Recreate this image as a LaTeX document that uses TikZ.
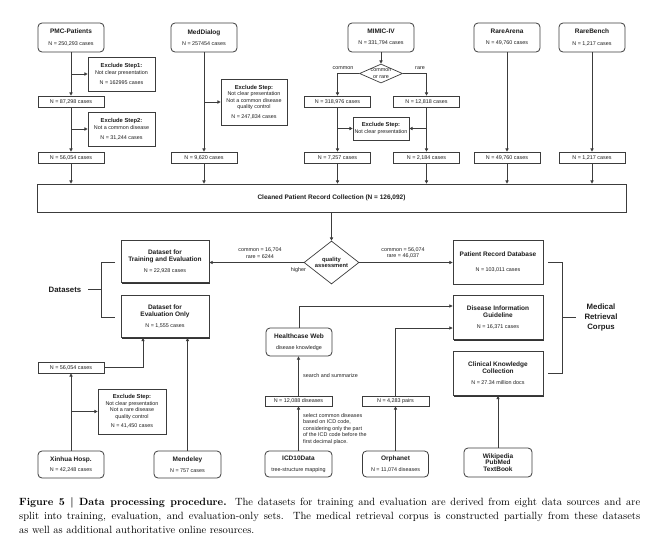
\documentclass[tikz,border=0pt]{standalone}
\usepackage{fontspec}
\setsansfont{Liberation Sans}
\usetikzlibrary{shapes.geometric,arrows.meta,shadows,calc}
\definecolor{lc}{HTML}{3C3C3C}
\definecolor{tc}{HTML}{1E1E1E}
\newcommand\fsm{\sffamily\fontsize{5.4}{6.6}\selectfont}
\newcommand\fti{\sffamily\bfseries\fontsize{6.5}{8}\selectfont}
\newcommand\fex{\sffamily\bfseries\fontsize{5.8}{6.6}\selectfont}
\newcommand\fbr{\sffamily\bfseries\fontsize{7.8}{10}\selectfont}
\newcommand\ttl[1]{{\fti #1}}
\newcommand\ext[1]{{\fex #1}}
\begin{document}
\begin{tikzpicture}[x=1pt,y=-1pt,
  src/.style={draw=lc, line width=0.8pt, rounded corners=4pt, fill=white, minimum width=66pt, minimum height=29pt, inner sep=0pt, align=center, font=\fsm, text=tc},
  cnt/.style={draw=lc, line width=0.7pt, fill=white, minimum width=66pt, minimum height=11pt, inner sep=0pt, font=\fsm, text=tc},
  exc/.style={draw=lc, line width=0.7pt, fill=white, inner sep=0pt, align=center, font=\fsm, text=tc},
  big/.style={draw=lc, line width=0.9pt, fill=white, minimum width=88pt, minimum height=42pt, inner sep=0pt, align=center, font=\fsm, text=tc, drop shadow={shadow xshift=1.4pt, shadow yshift=-1.4pt, fill=black!80, opacity=1}},
  dia/.style={diamond, draw=lc, line width=0.7pt, fill=white, inner sep=0pt},
  lab/.style={font=\fsm, text=tc, inner sep=0pt, align=center},
  ln/.style={draw=lc, line width=0.7pt},
  arr/.style={ln, -{Triangle[length=3.2pt, width=3.2pt]}}]
\useasboundingbox (0,0) rectangle (654,549);
\fill[white] (0,0) rectangle (654,549);

% sources
\node[src] (pmc) at (71,37.5) {\ttl{PMC-Patients}\\[4.5pt]N = 250,293 cases};
\node[src] (med) at (204,37.5) {\ttl{MedDialog}\\[4.5pt]N = 257454 cases};
\node[src] (mim) at (381,37.5) {\ttl{MIMIC-IV}\\[4.5pt]N = 331,794 cases};
\node[src] (rar) at (507,37.5) {\ttl{RareArena}\\[4.5pt]N = 49,760 cases};
\node[src] (rab) at (592,37.5) {\ttl{RareBench}\\[4.5pt]N = 1,217 cases};

% counts
\node[cnt] (p1) at (71,101.5) {N = 87,298 cases};
\node[cnt] (p2) at (71,157.5) {N = 56,054 cases};
\node[cnt] (m1) at (204,157.5) {N = 9,620 cases};
\node[cnt] (mc1) at (337.5,101.5) {N = 318,976 cases};
\node[cnt] (mr1) at (426.5,101.5) {N = 12,818 cases};
\node[cnt] (mc2) at (337.5,157.5) {N = 7,257 cases};
\node[cnt] (mr2) at (426.5,157.5) {N = 2,184 cases};
\node[cnt] (ra1) at (507,157.5) {N = 49,760 cases};
\node[cnt] (rb1) at (592,157.5) {N = 1,217 cases};

% exclude boxes
\node[exc, minimum width=67pt, minimum height=34pt] (ex1) at (121.5,74) {\ext{Exclude Step1:}\\[0.5pt]Not clear presentation\\[3pt]N = 162995 cases};
\node[exc, minimum width=67pt, minimum height=34pt] (ex2) at (121.5,129) {\ext{Exclude Step2:}\\[0.5pt]Not a common disease\\[3pt]N = 31,244 cases};
\node[exc, minimum width=66pt, minimum height=46pt] (exm) at (254,102) {\ext{Exclude Step:}\\Not clear presentation\\Not a common disease\\quality control\\[3pt]N = 247,834 cases};
\node[exc, minimum width=56pt, minimum height=23pt] (exmi) at (381,128.5) {\ext{Exclude Step:}\\Not clear presentation};

% common or rare
\node[dia, minimum width=43pt, minimum height=19pt] (cor) at (381,73.5) {};
\node[lab] (cort) at (cor) {common\\or rare};
\node[lab] (lcom) at (343,68) {common};
\node[lab] (lrare) at (420,68) {rare};

% cleaned
\node[draw=lc, line width=0.7pt, fill=white, minimum width=589pt, minimum height=28pt, inner sep=0pt, font=\fti, text=tc] (clean) at (331.5,198) {Cleaned Patient Record Collection (N = 126,092)};

% quality assessment
\node[dia, minimum width=55pt, minimum height=43pt] (qa) at (331.5,262.5) {};
\node[lab, font=\fex] (qat) at (qa) {quality\\assessment};

% datasets
\node[big] (dte) at (165,261.5) {\ttl{Dataset for}\\\ttl{Training and Evaluation}\\[5pt]N = 22,928 cases};
\node[big] (evo) at (165,316.5) {\ttl{Dataset for}\\\ttl{Evaluation Only}\\[5pt]N = 1,555 cases};
\node[big, minimum width=90pt, minimum height=44pt] (prd) at (498,262) {\ttl{Patient Record Database}\\[9pt]N = 103,011 cases};
\node[big, minimum width=90pt, minimum height=44pt] (dig) at (498,317.5) {\ttl{Disease Information}\\\ttl{Guideline}\\[5pt]N = 16,371 cases};
\node[big, minimum width=90pt, minimum height=44pt] (ckc) at (498,373.5) {\ttl{Clinical Knowledge}\\\ttl{Collection}\\[5pt]N = 27.34 million docs};

\node[lab] (lcl) at (260,253) {common = 16,704\\rare = 6244};
\node[lab] (lcr) at (403,253) {common = 56,074\\rare = 46,037};
\node[lab] (lhi) at (298.5,270.5) {higher};

% brackets
\node[font=\fbr, text=tc, inner sep=0pt] (dsl) at (65,289.5) {Datasets};
\node[font=\fbr, text=tc, inner sep=0pt, align=center] (mrc) at (601,317) {Medical\\Retrieval\\Corpus};
\coordinate (b1) at (115,262);
\coordinate (b2) at (101,262);
\coordinate (b3) at (101,317);
\coordinate (b4) at (115,317);
\coordinate (b5) at (101,289.5);
\coordinate (b6) at (88,289.5);
\draw[ln, line width=0.9pt] (b1) -- (b2) -- (b3) -- (b4);
\draw[ln, line width=0.9pt] (b6) -- (b5);
\coordinate (c1) at (548,262);
\coordinate (c2) at (562,262);
\coordinate (c3) at (562,373);
\coordinate (c4) at (548,373);
\coordinate (c5) at (562,317);
\coordinate (c6) at (576,317);
\draw[ln, line width=0.9pt] (c1) -- (c2) -- (c3) -- (c4);
\draw[ln, line width=0.9pt] (c5) -- (c6);

% lower sources
\node[src, minimum height=28pt] (hw) at (299,342) {\ttl{Healthcase Web}\\[4pt]disease knowledge};
\node[cnt, minimum width=67pt, minimum height=10pt] (ic1) at (298.5,401) {N = 12,088 diseases};
\node[src, minimum width=67pt, minimum height=26pt] (icd) at (298.5,464) {\ttl{ICD10Data}\\[4pt]tree-structure mapping};
\node[cnt, minimum width=67pt, minimum height=10pt] (or1) at (395.5,401) {N = 4,283 pairs};
\node[src, minimum height=26pt] (orph) at (395.5,464) {\ttl{Orphanet}\\[4pt]N = 11,074 diseases};
\node[src, minimum width=68pt] (wiki) at (498,462.5) {\ttl{Wikipedia}\\\ttl{PubMed}\\\ttl{TextBook}};
\node[cnt] (x1) at (71,367.5) {N = 56,054 cases};
\node[exc, minimum width=68pt, minimum height=45pt] (exx) at (132,411.5) {\ext{Exclude Step:}\\Not clear presentation\\Not a rare disease\\quality control\\[3pt]N = 41,450 cases};
\node[src, minimum height=27pt] (xin) at (71,464.5) {\ttl{Xinhua Hosp.}\\[4pt]N = 42,248 cases};
\node[src, minimum width=67pt, minimum height=27pt] (mend) at (187.5,464.5) {\ttl{Mendeley}\\[4pt]N = 757 cases};

\node[lab, anchor=west] (lss) at (303,376) {search and summarize};
\node[lab, anchor=north west, align=left] (licd) at (303,413) {select common diseases\\based on ICD code,\\considering only the part\\of the ICD code before the\\first decimal place.};

% connectors
\draw[arr] (pmc.south) -- (p1.north);
\draw[arr] (p1.south) -- (p2.north);
\draw[arr] (pmc.south |- ex1.west) -- (ex1.west);
\draw[arr] (p1.south |- ex2.west) -- (ex2.west);
\draw[arr] (med.south) -- (m1.north);
\draw[arr] (med.south |- exm.west) -- (exm.west);
\draw[arr] (mim.south) -- (cor.north);
\draw[arr] (cor.west) -| (mc1.north);
\draw[arr] (cor.east) -| (mr1.north);
\draw[arr] (mc1.south) -- (mc2.north);
\draw[arr] (mr1.south) -- (mr2.north);
\draw[arr] (mc1.south |- exmi.west) -- (exmi.west);
\draw[arr] (mr1.south |- exmi.east) -- (exmi.east);
\draw[arr] (rar.south) -- (ra1.north);
\draw[arr] (rab.south) -- (rb1.north);
\foreach \n in {p2,m1,mc2,mr2,ra1,rb1} \draw[arr] (\n.south) -- (\n.south |- clean.north);
\draw[arr] (clean.south -| qa.north) -- (qa.north);
\draw[arr] (qa.west) -- (qa.west -| dte.east);
\draw[arr] (qa.east) -- (qa.east -| prd.west);
\draw[arr] (hw.north) |- ([yshift=11.5pt]dig.west);
\draw[arr] (or1.north) |- ([yshift=-10.5pt]dig.west);
\draw[arr] (ic1.north) -- (ic1.north |- hw.south);
\draw[arr] (icd.north) -- (ic1.south);
\draw[arr] (orph.north) -- (or1.south);
\draw[arr] (wiki.north) -- (ckc.south);
\draw[arr] (xin.north) -- (x1.south);
\draw[arr] (xin.north |- exx.west) -- (exx.west);
\draw[arr] (x1.east) -| ([xshift=-22pt]evo.south);
\draw[arr] (mend.north) -- (mend.north |- evo.south);

% caption
\node[anchor=north west, inner sep=0pt, text width=621pt, align=justify, font=\fontsize{10.5}{14}\selectfont] (cap) at (19,497) {\textbf{Figure 5 | Data processing procedure.} The datasets for training and evaluation are derived from eight data sources and are\linebreak split into training, evaluation, and evaluation-only sets. The medical retrieval corpus is constructed partially from these datasets\linebreak as well as additional authoritative online resources.};
\end{tikzpicture}
\end{document}
